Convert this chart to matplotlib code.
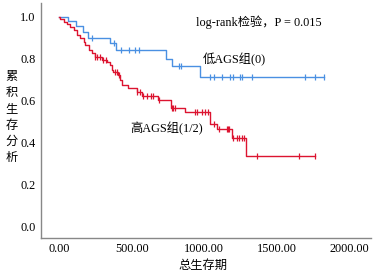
import matplotlib

matplotlib.use("Agg")
import matplotlib.pyplot as plt
import numpy as np

# Kaplan-Meier steps (days, survival after the drop)
low_times = [64, 116, 162, 201, 349, 392, 738, 779, 971]
low_surv = [0.98, 0.955, 0.925, 0.899, 0.872, 0.841, 0.798, 0.765, 0.714]
low_censor = [224, 380, 429, 482, 521, 550, 824, 840, 1039, 1064, 1121,
              1176, 1194, 1247, 1262, 1327, 1692, 1765, 1827]
low_end = 1827

high_times = [9, 32, 55, 78, 101, 124, 146, 170, 181, 204, 227, 250, 296,
              330, 353, 365, 373, 408, 420, 431, 477, 534, 569, 683, 768,
              867, 1038, 1085, 1188, 1284]
high_surv = [0.99, 0.975, 0.964, 0.951, 0.936, 0.912, 0.896, 0.88, 0.864,
             0.84, 0.825, 0.809, 0.793, 0.785, 0.769, 0.745, 0.737, 0.722,
             0.698, 0.674, 0.658, 0.642, 0.62, 0.603, 0.563, 0.544, 0.489,
             0.463, 0.421, 0.338]
high_censor = [250, 262, 285, 305, 325, 388, 400, 415, 540, 557, 580, 603,
               631, 644, 690, 775, 782, 798, 935, 947, 981, 1004, 1027, 1066,
               1100, 1153, 1164, 1171, 1199, 1222, 1240, 1257, 1274, 1366,
               1653, 1765]
high_end = 1765

xticks = [0, 500, 1000, 1500, 2000]
yticks = [0.0, 0.2, 0.4, 0.6, 0.8, 1.0]

BLUE = "#4a90e2"
RED = "#dc1430"
SERIF = ["Liberation Serif", "Noto Sans CJK SC"]
FS = 8.8


def km(ax, times, surv, censor, end, color):
    t = np.r_[0, times, end]
    s = np.r_[1.0, surv, surv[-1]]
    ax.step(t, s, where="post", color=color, lw=1.0)
    idx = np.searchsorted(times, censor, side="right")
    cs = np.r_[1.0, surv][idx]
    ax.plot(censor, cs, ls="none", marker="|", ms=4, mew=0.9, color=color)


fig = plt.figure(figsize=(3.78, 2.73), dpi=100)
ax = fig.add_axes([0.1085, 0.129, 0.8725, 0.859])
km(ax, low_times, low_surv, low_censor, low_end, BLUE)
km(ax, high_times, high_surv, high_censor, high_end, RED)

ax.set_xlim(-124, 2146)
ax.set_ylim(-0.052, 1.063)
ax.set_xticks(xticks)
ax.set_xticklabels([f"{v:.2f}" for v in xticks], family=SERIF, fontsize=FS)
ax.set_yticks(yticks)
ax.set_yticklabels([f"{v:.1f}" for v in yticks], family=SERIF, fontsize=FS)
ax.tick_params(length=0, pad=4)
for side in ("top", "right"):
    ax.spines[side].set_visible(False)
for side in ("left", "bottom"):
    ax.spines[side].set_color("#888888")
    ax.spines[side].set_linewidth(1.0)

fig.text(0.03, 0.57, "\n".join("累积生存分析"), family=SERIF, fontsize=FS,
         ha="center", va="center", linespacing=1.48)
fig.text(0.537, 0.026, "总生存期", family=SERIF, fontsize=FS,
         ha="center", va="center")

ax.text(0.47, 0.92, "log-rank检验，P = 0.015", transform=ax.transAxes,
        family=SERIF, fontsize=FS, ha="left", va="center")
ax.text(0.49, 0.76, "低AGS组(0)", transform=ax.transAxes,
        family=SERIF, fontsize=FS, ha="left", va="center")
ax.text(0.271, 0.465, "高AGS组(1/2)", transform=ax.transAxes,
        family=SERIF, fontsize=FS, ha="left", va="center")

fig.savefig("out.png", dpi=100)
